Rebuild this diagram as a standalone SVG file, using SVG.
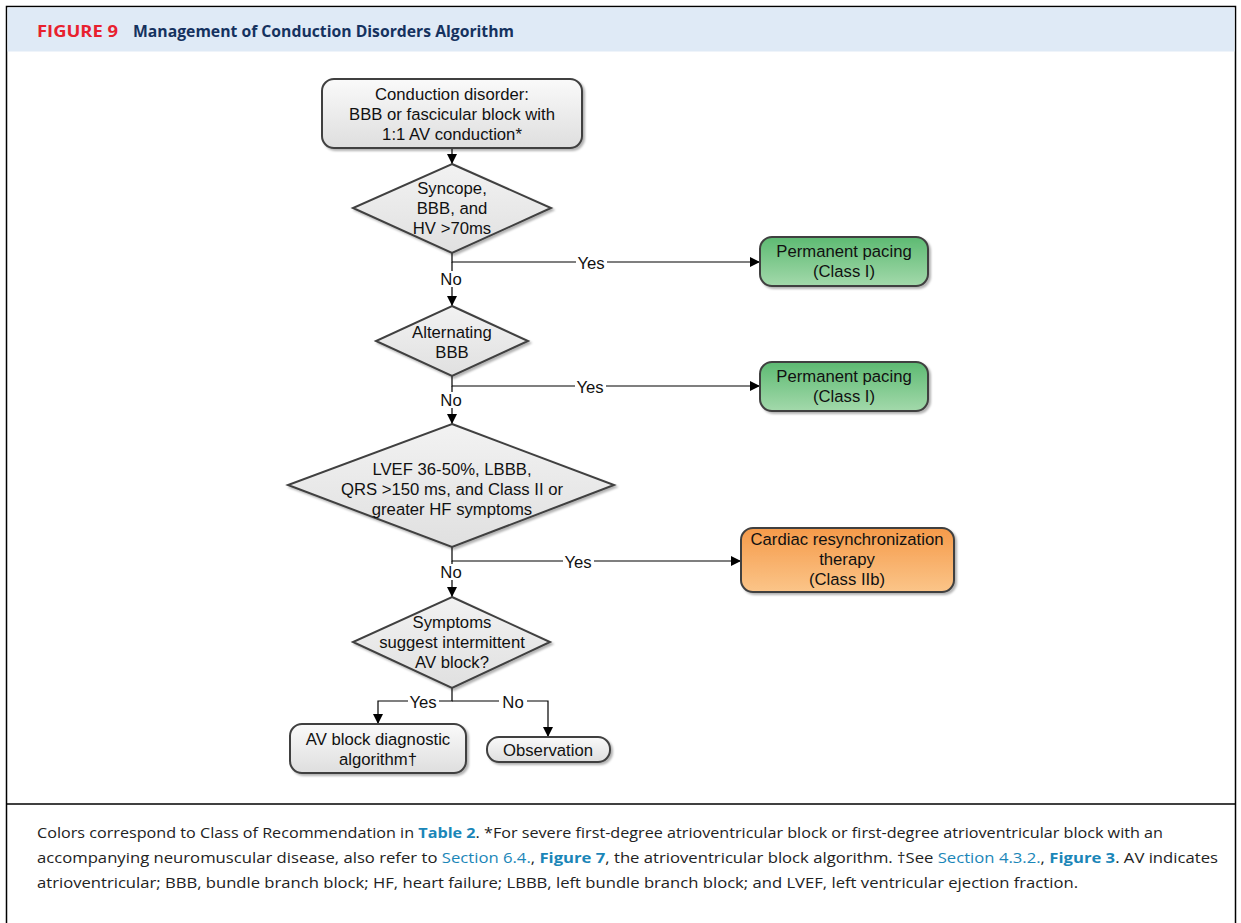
<svg xmlns="http://www.w3.org/2000/svg" width="1241" height="923" viewBox="0 0 1241 923">
<defs>
<linearGradient id="gGray" x1="0" y1="0" x2="0" y2="1"><stop offset="0" stop-color="#fafafa"/><stop offset="1" stop-color="#dedede"/></linearGradient>
<linearGradient id="gDia" x1="0" y1="0" x2="0" y2="1"><stop offset="0" stop-color="#f2f2f2"/><stop offset="1" stop-color="#e0e0e0"/></linearGradient>
<linearGradient id="gGreen" x1="0" y1="0" x2="0" y2="1"><stop offset="0" stop-color="#5dba72"/><stop offset="1" stop-color="#a3d9ab"/></linearGradient>
<linearGradient id="gOrange" x1="0" y1="0" x2="0" y2="1"><stop offset="0" stop-color="#f59a4a"/><stop offset="1" stop-color="#fbc589"/></linearGradient>
<filter id="sh" x="-10%" y="-10%" width="125%" height="130%"><feDropShadow dx="2" dy="2" stdDeviation="1.2" flood-color="#000" flood-opacity="0.3"/></filter>
<marker id="arr" viewBox="0 0 10 10" refX="10" refY="5" markerWidth="10" markerHeight="10" markerUnits="userSpaceOnUse" orient="auto"><path d="M0,0 L10,5 L0,10 z" fill="#000"/></marker>
</defs>
<style>
.t{font-family:"Liberation Sans",Arial,sans-serif;font-size:16.7px;fill:#111;text-anchor:middle}
.lbl{font-family:"Liberation Sans",Arial,sans-serif;font-size:16.7px;fill:#111;text-anchor:middle}
.box{stroke:#404040;stroke-width:2;filter:url(#sh)}
.dia{fill:url(#gDia);stroke:#404040;stroke-width:2;filter:url(#sh)}
.ln{fill:none;stroke:#000;stroke-width:1.2}
.cap{font-family:"Open Sans","Liberation Sans",sans-serif;font-size:14px;fill:#222}
.lk{fill:#1a86b8}
.lkb{fill:#1a86b8;font-weight:bold}
</style>
<rect x="0" y="0" width="1241" height="923" fill="#fff"/>
<rect x="6.5" y="6.5" width="1229" height="930" fill="none" stroke="#000" stroke-width="1.5"/>
<rect x="7.5" y="7.5" width="1227" height="44" fill="#dfeaf6"/>
<text x="37" y="37" font-family="'Open Sans','Liberation Sans',sans-serif" font-size="16" font-weight="bold" fill="#e8202e" textLength="81" lengthAdjust="spacingAndGlyphs">FIGURE 9</text>
<text x="133" y="37" font-family="'Open Sans','Liberation Sans',sans-serif" font-size="16" font-weight="bold" fill="#15325f" textLength="381" lengthAdjust="spacingAndGlyphs">Management of Conduction Disorders Algorithm</text>
<line x1="7" y1="804" x2="1235" y2="804" stroke="#000" stroke-width="1.5"/>

<g id="connectors">
<line class="ln" x1="452" y1="148" x2="452" y2="164" marker-end="url(#arr)"/>
<path class="ln" d="M452,253 V262 H760" marker-end="url(#arr)"/>
<path class="ln" d="M452,262 V306" marker-end="url(#arr)"/>
<path class="ln" d="M452,376 V386 H760" marker-end="url(#arr)"/>
<path class="ln" d="M452,386 V424" marker-end="url(#arr)"/>
<path class="ln" d="M452,547 V561 H741" marker-end="url(#arr)"/>
<path class="ln" d="M452,561 V597" marker-end="url(#arr)"/>
<path class="ln" d="M452,688 V701 H378 V724" marker-end="url(#arr)"/>
<path class="ln" d="M452,701 H548 V737" marker-end="url(#arr)"/>
<rect x="576" y="254" width="31" height="16" fill="#fff"/>
<text class="lbl" x="591" y="269">Yes</text>
<rect x="436" y="271" width="30" height="16" fill="#fff"/>
<text class="lbl" x="451" y="285">No</text>
<rect x="575" y="378" width="31" height="16" fill="#fff"/>
<text class="lbl" x="590" y="393">Yes</text>
<rect x="436" y="392" width="30" height="16" fill="#fff"/>
<text class="lbl" x="451" y="406">No</text>
<rect x="563" y="553" width="31" height="16" fill="#fff"/>
<text class="lbl" x="578" y="568">Yes</text>
<rect x="436" y="564" width="30" height="16" fill="#fff"/>
<text class="lbl" x="451" y="578">No</text>
<rect x="408" y="693" width="31" height="16" fill="#fff"/>
<text class="lbl" x="423" y="708">Yes</text>
<rect x="499" y="693" width="28" height="16" fill="#fff"/>
<text class="lbl" x="513" y="708">No</text>
</g>

<g id="start">
<rect class="box" x="322" y="79" width="260" height="69" rx="12" fill="url(#gGray)"/>
<text class="t" x="452" y="100">Conduction disorder:</text>
<text class="t" x="452" y="120">BBB or fascicular block with</text>
<text class="t" x="452" y="140">1:1 AV conduction*</text>
</g>
<g id="d1">
<polygon class="dia" points="452,164 551,208 452,253 353,208"/>
<text class="t" x="452" y="194">Syncope,</text>
<text class="t" x="452" y="214">BBB, and</text>
<text class="t" x="452" y="234">HV &gt;70ms</text>
</g>
<g id="pp1">
<rect class="box" x="760" y="237" width="168" height="49" rx="12" fill="url(#gGreen)"/>
<text class="t" x="844" y="257">Permanent pacing</text>
<text class="t" x="844" y="277">(Class I)</text>
</g>
<g id="d2">
<polygon class="dia" points="452,306 528,341 452,376 376,341"/>
<text class="t" x="452" y="338">Alternating</text>
<text class="t" x="452" y="358">BBB</text>
</g>
<g id="pp2">
<rect class="box" x="760" y="362" width="168" height="49" rx="12" fill="url(#gGreen)"/>
<text class="t" x="844" y="382">Permanent pacing</text>
<text class="t" x="844" y="402">(Class I)</text>
</g>
<g id="d3">
<polygon class="dia" points="452,424 614,485 452,547 288,485"/>
<text class="t" x="452" y="475">LVEF 36-50%, LBBB,</text>
<text class="t" x="452" y="495">QRS &gt;150 ms, and Class II or</text>
<text class="t" x="452" y="515">greater HF symptoms</text>
</g>
<g id="crt">
<rect class="box" x="741" y="528" width="213" height="64" rx="12" fill="url(#gOrange)"/>
<text class="t" x="847" y="545">Cardiac resynchronization</text>
<text class="t" x="847" y="565">therapy</text>
<text class="t" x="847" y="585">(Class IIb)</text>
</g>
<g id="d4">
<polygon class="dia" points="452,597 550,642 452,688 353,642"/>
<text class="t" x="452" y="628">Symptoms</text>
<text class="t" x="452" y="648">suggest intermittent</text>
<text class="t" x="452" y="668">AV block?</text>
</g>
<g id="avb">
<rect class="box" x="290" y="724" width="176" height="49" rx="12" fill="url(#gGray)"/>
<text class="t" x="378" y="745">AV block diagnostic</text>
<text class="t" x="378" y="765">algorithm†</text>
</g>
<g id="obs">
<rect class="box" x="487" y="737" width="123" height="25" rx="12" fill="url(#gGray)"/>
<text class="t" x="548" y="756">Observation</text>
</g>

<g id="caption">
<text class="cap" x="37" y="838" textLength="1126" lengthAdjust="spacingAndGlyphs">Colors correspond to Class of Recommendation in <tspan class="lkb">Table 2</tspan>. *For severe first-degree atrioventricular block or first-degree atrioventricular block with an</text>
<text class="cap" x="37" y="863" textLength="1181" lengthAdjust="spacingAndGlyphs">accompanying neuromuscular disease, also refer to <tspan class="lk">Section 6.4.</tspan>, <tspan class="lkb">Figure 7</tspan>, the atrioventricular block algorithm. †See <tspan class="lk">Section 4.3.2.</tspan>, <tspan class="lkb">Figure 3</tspan>. AV indicates</text>
<text class="cap" x="37" y="888" textLength="1041" lengthAdjust="spacingAndGlyphs">atrioventricular; BBB, bundle branch block; HF, heart failure; LBBB, left bundle branch block; and LVEF, left ventricular ejection fraction.</text>
</g>
</svg>
